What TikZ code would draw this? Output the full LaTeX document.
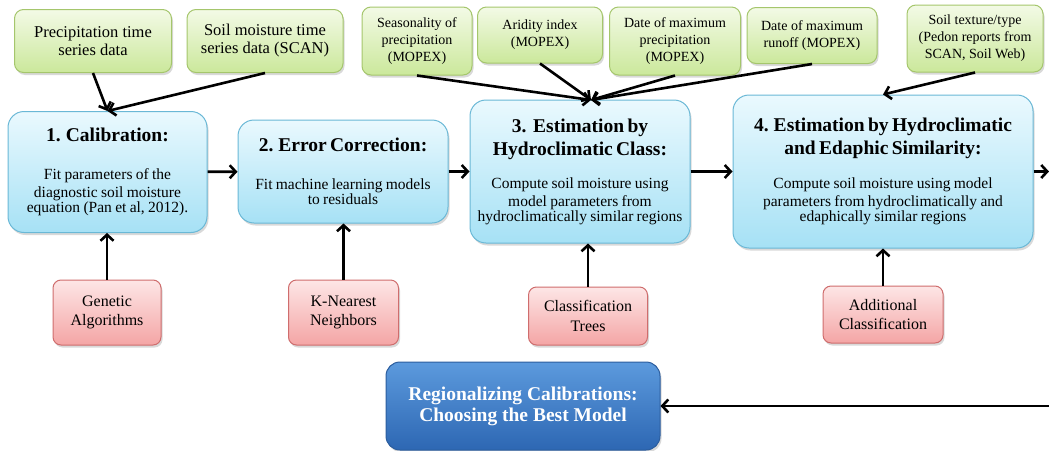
\documentclass[tikz,border=0pt]{standalone}
\usepackage{fontspec}
\setmainfont{Liberation Serif}
\usetikzlibrary{arrows,arrows.meta}
\usetikzlibrary{shadows}
\definecolor{inpline}{HTML}{A5C66C}
\definecolor{inptop}{HTML}{F3FAE6}
\definecolor{inpbot}{HTML}{CBE89B}
\definecolor{stgline}{HTML}{6AB8D6}
\definecolor{stgtop}{HTML}{EAF9FE}
\definecolor{stgbot}{HTML}{A6E1F5}
\definecolor{toolline}{HTML}{CF6D6D}
\definecolor{tooltop}{HTML}{FDE6E6}
\definecolor{toolbot}{HTML}{F4A5A5}
\definecolor{finline}{HTML}{2B5D9E}
\definecolor{fintop}{HTML}{5C9ADD}
\definecolor{finbot}{HTML}{2D67B3}
\tikzset{shad/.style={drop shadow={opacity=0.3,shadow xshift=1.5pt,shadow yshift=-2.5pt}}}
\tikzset{inp/.style={draw=inpline,line width=1pt,rounded corners=9pt,top color=inptop,bottom color=inpbot,shad,align=center,inner sep=2pt,font=\fontsize{16.5}{18}\selectfont}}
\tikzset{sm/.style={font=\fontsize{14}{17}\selectfont}}
\tikzset{stage/.style={draw=stgline,line width=1pt,rounded corners=16pt,top color=stgtop,bottom color=stgbot,shad,align=center,inner sep=4pt}}
\tikzset{tool/.style={draw=toolline,line width=1pt,rounded corners=8pt,top color=tooltop,bottom color=toolbot,shad,align=center,inner sep=2pt,font=\fontsize{16}{19.5}\selectfont}}
\tikzset{fin/.style={draw=finline,line width=1pt,rounded corners=14pt,top color=fintop,bottom color=finbot,shad,align=center,text=white,font=\fontsize{19.5}{21}\selectfont\bfseries}}
\tikzset{arr/.style={-{Straight Barb[length=6pt,width=13pt]},line width=2.6pt}}
\newcommand{\ttl}{\fontsize{19.5}{23}\selectfont\bfseries}
\newcommand{\bdy}{\fontsize{15.5}{18}\selectfont\mdseries}

\begin{document}
\begin{tikzpicture}[x=1pt,y=-1pt]
          \useasboundingbox (0,0) rectangle (1049,450);
          % stages
          \node[stage,text width=191pt,minimum height=121pt] (cal) at (107.5,172) {\ttl 1. Calibration:\\[20pt]\bdy Fit parameters of the\\diagnostic soil moisture\\equation (Pan et al, 2012).};
          \node[stage,text width=202pt,minimum height=103pt] (err) at (343,171.5) {\ttl 2. Error Correction:\\[20pt]\bdy Fit machine learning models\\to residuals};
          \node[stage,text width=212pt,minimum height=143pt] (hyd) at (580,171.5) {\ttl 3.\ \ Estimation by\\Hydroclimatic Class:\\[15pt]\bdy Compute soil moisture using\\model parameters from\\hydroclimatically similar regions};
          \node[stage,text width=292pt,minimum height=153pt] (eda) at (883,171.5) {\ttl 4. Estimation by Hydroclimatic\\and Edaphic Similarity:\\[16pt]\bdy Compute soil moisture using model\\parameters from hydroclimatically and\\edaphically similar regions};
          \draw[arr] (cal) -- (err);
          \draw[arr] (err) -- (hyd);
          \draw[arr] (hyd) -- (eda);
          \coordinate (out4) at (1049,171.5);
          \draw[arr] (eda) -- (out4);
          % data inputs
          \node[inp,minimum width=157pt,minimum height=63pt] (pts) at (93,41) {Precipitation time\\series data};
          \node[inp,minimum width=156pt,minimum height=63pt] (sms) at (265,41) {Soil moisture time\\series data (SCAN)};
          \node[inp,sm,minimum width=110pt,minimum height=68pt] (sea) at (417,41) {Seasonality of\\precipitation\\(MOPEX)};
          \node[inp,sm,minimum width=125pt,minimum height=56pt] (ari) at (540,35) {Aridity index\\(MOPEX)};
          \node[inp,sm,minimum width=131pt,minimum height=68pt] (dmp) at (675,41) {Date of maximum\\precipitation\\(MOPEX)};
          \node[inp,sm,minimum width=130pt,minimum height=56pt] (dmr) at (812,35.5) {Date of maximum\\runoff (MOPEX)};
          \node[inp,sm,minimum width=136pt,minimum height=67pt] (stt) at (975,38.5) {Soil texture/type\\(Pedon reports from\\SCAN, Soil Web)};
          \draw[arr] (pts.south) -- (cal.north);
          \draw[arr] (sms.south) -- (cal.north);
          \coordinate (hydtop) at (591,100);
          \draw[arr] (sea.south) -- (hydtop);
          \draw[arr] (ari.south) -- (hydtop);
          \draw[arr] (dmp.south) -- (hydtop);
          \draw[arr] (dmr.south) -- (hydtop);
          \draw[arr] (stt.south) -- (eda.north);
          % methods
          \node[tool,minimum width=108pt,minimum height=65pt] (gen) at (107,312.5) {Genetic\\Algorithms};
          \node[tool,minimum width=110pt,minimum height=65pt] (knn) at (343.5,312.5) {K-Nearest\\Neighbors};
          \node[tool,minimum width=119pt,minimum height=58pt] (ctr) at (588,316) {Classification\\Trees};
          \node[tool,minimum width=120pt,minimum height=57pt] (add) at (883,314.5) {Additional\\Classification};
          \draw[arr] (gen) -- (gen |- cal.south);
          \draw[arr] (knn) -- (knn |- err.south);
          \draw[arr] (ctr) -- (ctr |- hyd.south);
          \draw[arr] (add) -- (add |- eda.south);
          % final step
          \node[fin,minimum width=274pt,minimum height=88pt] (best) at (523,406) {Regionalizing Calibrations:\\Choosing the Best Model};
          \coordinate (back) at (1049,406);
          \draw[arr] (back) -- (best);
        \end{tikzpicture}
\end{document}
